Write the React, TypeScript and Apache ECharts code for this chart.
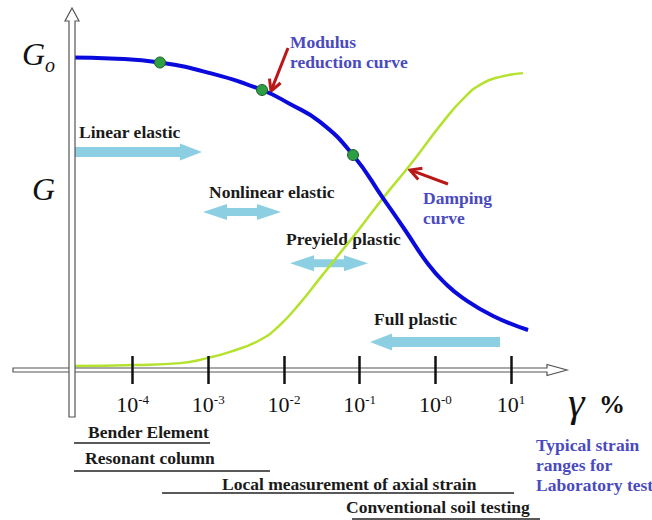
import React, { useEffect, useRef } from "react";
import * as echarts from "echarts";

// ---- axis ticks / labels ----
const tickValues = [-4, -3, -2, -1, 0, 1]; // log10 of strain (%)
const tickExponents = ["-4", "-3", "-2", "-1", "-0", "1"];
const yLabelValues = [0.565, 1.0];
const yLabelNames = ["G", "Go"];

// ---- curves (x = log10 strain %, y = normalised level) ----
const modulusStrain = [-4.8, -4.298, -3.638, -2.977, -2.29, -1.92, -1.524, -1.088, -0.692, -0.401, -0.097, 0.127, 0.365, 0.762, 1.224];
const modulusRatio = [1.0, 0.997, 0.984, 0.95, 0.896, 0.851, 0.794, 0.688, 0.55, 0.448, 0.339, 0.278, 0.23, 0.173, 0.128];
const dampingStrain = [-4.76, -3.968, -3.373, -3.017, -2.713, -2.317, -2.052, -1.788, -1.524, -1.26, -0.996, -0.692, -0.335, 0.101, 0.392, 0.629, 0.854, 1.158];
const dampingRatio = [0.013, 0.016, 0.022, 0.038, 0.058, 0.096, 0.144, 0.214, 0.294, 0.374, 0.454, 0.55, 0.656, 0.794, 0.874, 0.918, 0.938, 0.95];
const markerStrain = [-3.638, -2.29, -1.088];
const markerRatio = [0.984, 0.896, 0.688];

// ---- behaviour zones (arrows) ----
const zoneNames = ["Linear elastic", "Nonlinear elastic", "Preyield plastic", "Full plastic"];
const zoneFrom = [-4.787, -3.07, -1.92, 0.854];
const zoneTo = [-3.083, -2.039, -0.89, -0.863];
const zoneLevel = [0.698, 0.506, 0.342, 0.0896];
const zoneDouble = [0, 1, 1, 0];

// ---- laboratory test strain ranges ----
const labNames = ["Bender Element", "Resonant column", "Local measurement of axial strain", "Conventional soil testing"];
const labFrom = [-4.774, -4.774, -3.611, -1.101];
const labTo = [-2.977, -2.184, 1.039, 1.382];
const labLevel = [-0.2336, -0.3232, -0.3936, -0.4768];

const SERIF = '"Liberation Serif", "Times New Roman", serif';
const ARROW_BLUE = "#8ccfe2";
const LABEL_BLUE = "#4a4abf";
const RED = "#b81818";

function txt(text: string, x: number, y: number, color: string, extra: any = {}) {
  return {
    type: "text",
    x,
    y,
    z: 1,
    style: {
      text,
      fill: color,
      fontFamily: SERIF,
      fontSize: 17.5,
      fontWeight: "bold",
      align: "left",
      verticalAlign: "middle",
      textAlign: "left",
      textVerticalAlign: "middle",
      ...extra,
    },
  };
}

function pointer(tail: number[], tip: number[]) {
  const dx = tip[0] - tail[0];
  const dy = tip[1] - tail[1];
  const len = Math.hypot(dx, dy);
  const ux = dx / len;
  const uy = dy / len;
  const L = 11;
  const W = 6;
  const bx = tip[0] - ux * L;
  const by = tip[1] - uy * L;
  return [
    {
      type: "line",
      z: 3,
      shape: { x1: tail[0], y1: tail[1], x2: tip[0] - ux * 2, y2: tip[1] - uy * 2 },
      style: { stroke: RED, lineWidth: 3 },
    },
    {
      type: "polyline",
      z: 3,
      shape: {
        points: [
          [bx - uy * W, by + ux * W],
          [tip[0], tip[1]],
          [bx + uy * W, by - ux * W],
        ],
      },
      style: { stroke: RED, lineWidth: 3, fill: "none" },
    },
  ];
}

export default function App() {
  const ref = useRef<HTMLDivElement>(null);

  useEffect(() => {
    if (!ref.current) return;
    const chart = echarts.init(ref.current, undefined, { renderer: "svg" });

    const tickLabel = (v: number) => {
      const i = tickValues.findIndex((t) => Math.abs(t - v) < 1e-6);
      return i < 0 ? "" : `{b|10}{s|${tickExponents[i]}}`;
    };
    const yLabel = (v: number) => {
      const i = yLabelValues.findIndex((t) => Math.abs(t - v) < 1e-6);
      if (i < 0) return "";
      const n = yLabelNames[i];
      return n.length > 1 ? `{g|${n[0]}}{o|${n.slice(1)}}` : `{g|${n}}`;
    };

    const tickStyle = { color: "#111", width: 2.5 };

    const option: any = {
      animation: false,
      backgroundColor: "#ffffff",
      grid: { left: 72, right: 95.5, top: 20, bottom: 150, containLabel: false, outerBoundsMode: "none" },
      xAxis: [
        {
          type: "value",
          min: -4.8,
          max: 1.6,
          position: "bottom",
          z: 20,
          axisLine: { show: false },
          splitLine: { show: false },
          axisTick: { show: true, customValues: tickValues, length: 14, lineStyle: tickStyle },
          axisLabel: {
            show: true,
            customValues: tickValues,
            margin: 22,
            formatter: tickLabel,
            rich: {
              b: { fontFamily: SERIF, fontSize: 22, color: "#111", lineHeight: 24 },
              s: { fontFamily: SERIF, fontSize: 13, color: "#111", padding: [0, 0, 9, 0] },
            },
          },
        },
        {
          type: "value",
          min: -4.8,
          max: 1.6,
          position: "bottom",
          z: 20,
          axisLine: { show: false },
          splitLine: { show: false },
          axisTick: { show: true, inside: true, customValues: tickValues, length: 14, lineStyle: tickStyle },
          axisLabel: { show: false },
        },
      ],
      yAxis: {
        type: "value",
        min: 0,
        max: 1.12,
        axisLine: { show: false },
        axisTick: { show: false },
        splitLine: { show: false },
        axisLabel: {
          show: true,
          customValues: yLabelValues,
          margin: 17,
          formatter: yLabel,
          rich: {
            g: { fontFamily: SERIF, fontStyle: "italic", fontSize: 32, color: "#111", padding: [0, 0, 8, 0] },
            o: { fontFamily: SERIF, fontStyle: "italic", fontSize: 20, color: "#111", padding: [14, 0, 0, 0] },
          },
        },
      },
      series: [
        {
          type: "custom",
          name: "zones",
          z: 1,
          encode: { x: [0, 1], y: 2 },
          data: zoneFrom.map((f, i) => [f, zoneTo[i], zoneLevel[i], zoneDouble[i], zoneNames[i]]),
          renderItem: (_p: any, api: any) => {
            const a = api.coord([api.value(0), api.value(2)]);
            const b = api.coord([api.value(1), api.value(2)]);
            const dbl = api.value(3) === 1;
            const y = a[1];
            let pts: number[][];
            if (dbl) {
              const hl = 24, hh = 8, sh = 4;
              const l = Math.min(a[0], b[0]);
              const r = Math.max(a[0], b[0]);
              pts = [
                [l, y], [l + hl, y - hh], [l + hl, y - sh], [r - hl, y - sh], [r - hl, y - hh],
                [r, y], [r - hl, y + hh], [r - hl, y + sh], [l + hl, y + sh], [l + hl, y + hh],
              ];
            } else {
              const hl = 22, hh = 8.5, sh = 5;
              const dir = Math.sign(b[0] - a[0]);
              const s = a[0], t = b[0];
              const hb = t - dir * hl;
              pts = [[s, y - sh], [hb, y - sh], [hb, y - hh], [t, y], [hb, y + hh], [hb, y + sh], [s, y + sh]];
            }
            return { type: "polygon", shape: { points: pts }, style: { fill: ARROW_BLUE } };
          },
        },
        {
          type: "custom",
          name: "lab ranges",
          z: 1,
          encode: { x: [0, 1], y: 2 },
          data: labFrom.map((f, i) => [f, labTo[i], labLevel[i], labNames[i]]),
          renderItem: (_p: any, api: any) => {
            const a = api.coord([api.value(0), api.value(2)]);
            const b = api.coord([api.value(1), api.value(2)]);
            return {
              type: "line",
              shape: { x1: a[0], y1: a[1], x2: b[0], y2: b[1] },
              style: { stroke: "#222", lineWidth: 1.5 },
            };
          },
        },
        {
          type: "line",
          name: "Damping curve",
          z: 3,
          symbol: "none",
          smooth: 0.5,
          data: dampingStrain.map((x, i) => [x, dampingRatio[i]]),
          lineStyle: { color: "#b5e22f", width: 2.5 },
        },
        {
          type: "line",
          name: "Modulus reduction curve",
          z: 4,
          symbol: "none",
          smooth: 0.5,
          data: modulusStrain.map((x, i) => [x, modulusRatio[i]]),
          lineStyle: { color: "#0a0adc", width: 4 },
        },
        {
          type: "scatter",
          name: "markers",
          z: 5,
          symbolSize: 11,
          data: markerStrain.map((x, i) => [x, markerRatio[i]]),
          itemStyle: { color: "#2e9e44", borderColor: "#1e5e2a", borderWidth: 1, opacity: 1 },
        },
      ],
      graphic: [
        // x axis (double line with hollow arrow)
        {
          type: "polygon",
          z: 5,
          shape: { points: [[13, 368], [547, 368], [547, 364.5], [567, 370], [547, 375.5], [547, 372], [13, 372]] },
          style: { fill: "#ffffff", stroke: "#555", lineWidth: 1.2 },
        },
        // y axis
        {
          type: "polygon",
          z: 6,
          shape: { points: [[72, 8], [79, 21], [75, 21], [75, 417], [69, 417], [69, 21], [65, 21]] },
          style: { fill: "#ffffff", stroke: "#555", lineWidth: 1.2 },
        },
        txt(zoneNames[0], 79, 132, "#1a1a1a"),
        txt(zoneNames[1], 209, 192, "#1a1a1a"),
        txt(zoneNames[2], 286, 239, "#1a1a1a"),
        txt(zoneNames[3], 374, 319, "#1a1a1a"),
        txt("Modulus", 290, 42, LABEL_BLUE),
        txt("reduction curve", 290, 62, LABEL_BLUE),
        txt("Damping", 423, 198, LABEL_BLUE),
        txt("curve", 423, 218, LABEL_BLUE),
        txt("Typical strain", 536, 445, LABEL_BLUE),
        txt("ranges for", 536, 465, LABEL_BLUE),
        txt("Laboratory test", 536, 485, LABEL_BLUE),
        txt(labNames[0], 88, 432, "#1a1a1a"),
        txt(labNames[1], 85, 458, "#1a1a1a"),
        txt(labNames[2], 222, 484, "#1a1a1a"),
        txt(labNames[3], 346, 507, "#1a1a1a"),
        txt("γ", 568, 402, "#111", { fontSize: 42, fontStyle: "italic", fontWeight: "normal" }),
        txt("%", 599, 404, "#111", { fontSize: 26 }),
        ...pointer([288, 48], [271, 91]),
        ...pointer([448, 184], [410, 170]),
      ],
    };

    chart.setOption(option);
    return () => chart.dispose();
  }, []);

  return (
    <div
      ref={ref}
      style={{ position: "absolute", left: 0, top: 0, width: 652, height: 520, background: "#fff" }}
    />
  );
}
